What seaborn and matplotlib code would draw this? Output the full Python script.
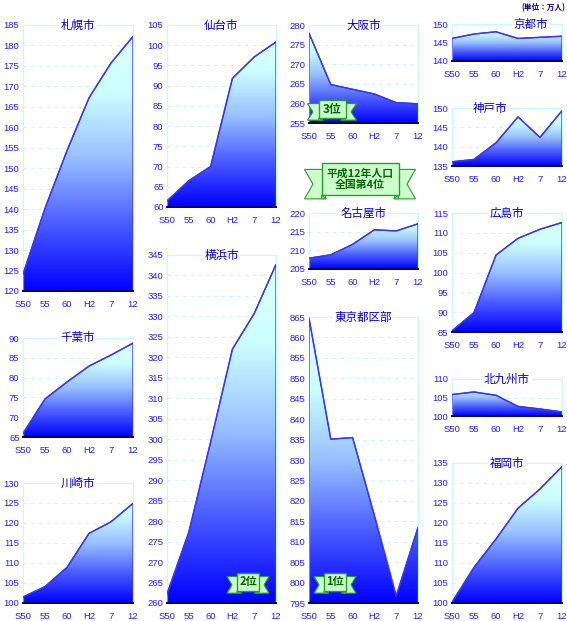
import numpy as np
import matplotlib
matplotlib.use('Agg')
import matplotlib.pyplot as plt
import seaborn as sns
from matplotlib.colors import LinearSegmentedColormap
from matplotlib.patches import Polygon

sns.set_style('white')
plt.rcParams['font.family'] = ['Noto Sans CJK JP', 'DejaVu Sans']

# 年次ラベル
years = ['S50', '55', '60', 'H2', '7', '12']

# 人口 (万人)
sapporo = [124.1, 140.2, 154.3, 167.2, 175.7, 182.2]
chiba = [65.9, 74.6, 78.9, 82.9, 85.7, 88.7]
kawasaki = [101.5, 104.1, 108.9, 117.4, 120.3, 124.9]
sendai = [61.5, 66.5, 70.0, 91.8, 97.1, 100.8]
yokohama = [262.2, 277.3, 299.3, 322.0, 330.7, 342.7]
osaka = [277.9, 264.8, 263.6, 262.4, 260.2, 259.9]
nagoya = [207.9, 208.8, 211.6, 215.5, 215.2, 217.1]
tokyo = [864.7, 835.1, 835.5, 816.4, 796.7, 813.5]
kyoto = [146.1, 147.3, 147.9, 146.1, 146.4, 146.7]
kobe = [136.1, 136.7, 141.0, 147.7, 142.4, 149.3]
hiroshima = [85.3, 89.9, 104.4, 108.6, 110.9, 112.6]
kitakyushu = [105.8, 106.5, 105.6, 102.6, 101.9, 101.1]
fukuoka = [100.2, 108.9, 116.0, 123.7, 128.5, 134.1]

W, H = 567, 621
fig = plt.figure(figsize=(W / 100, H / 100), dpi=100)
fig.patch.set_facecolor('white')

cmap = LinearSegmentedColormap.from_list(
    'grad', ['#0000ff', '#4a5cff', '#98c0ff', '#ccffff', '#e4ffff'])

# (名前, データ, y下限, y上限, 左, 上, 右, 下, タイトルずらし)
panels = [
    ('札幌市', sapporo, 120, 185, 23, 25, 133, 291, 0),
    ('千葉市', chiba, 65, 90, 23, 338, 133, 437, 0),
    ('川崎市', kawasaki, 100, 130, 23, 483, 133, 603, 0),
    ('仙台市', sendai, 60, 105, 167, 25, 276, 207, 0),
    ('横浜市', yokohama, 260, 345, 167, 255, 276, 603, 0),
    ('大阪市', osaka, 255, 280, 309, 25, 418, 123, 0),
    ('名古屋市', nagoya, 205, 220, 309, 213, 418, 269, 0),
    ('東京都区部', tokyo, 795, 865, 309, 317, 418, 603, 0),
    ('京都市', kyoto, 140, 150, 452, 24, 562, 61, 24),
    ('神戸市', kobe, 135, 150, 452, 108, 562, 166, -17),
    ('広島市', hiroshima, 85, 115, 452, 213, 562, 332, 0),
    ('北九州市', kitakyushu, 100, 110, 452, 379, 562, 416, 0),
    ('福岡市', fukuoka, 100, 135, 452, 463, 562, 603, 0),
]

xpos = np.arange(len(years))
axes = {}
for name, vals, lo, hi, l, t, r, b, dx in panels:
    ax = fig.add_axes([l / W, 1 - b / H, (r - l) / W, (b - t) / H])
    axes[name] = ax
    ax.set_xlim(0, 5)
    ax.set_ylim(lo, hi)
    fb = ax.fill_between(xpos, vals, lo, facecolor='none', edgecolor='#3535ff',
                         lw=0.9, zorder=3)
    im = ax.imshow(np.linspace(0, 1, 256).reshape(-1, 1), cmap=cmap, aspect='auto',
                   origin='lower', extent=[0, 5, lo, hi], zorder=2)
    im.set_clip_path(fb.get_paths()[0], transform=ax.transData)
    sns.lineplot(x=xpos, y=vals, ax=ax, color='#3535ff', lw=1.0, zorder=4)
    ax.set_xlim(0, 5)
    ax.set_ylim(lo, hi)
    ax.set_yticks(np.arange(lo, hi + 1, 5))
    ax.set_xticks(xpos)
    ax.set_xticklabels(years)
    ax.yaxis.grid(True, ls=(0, (3, 4)), color='#c8f4ff', lw=0.8)
    ax.set_axisbelow(True)
    for s in ['top', 'left', 'right']:
        ax.spines[s].set_color('#c8f8ff')
        ax.spines[s].set_linewidth(0.8)
    ax.spines['bottom'].set_color('#000050')
    ax.spines['bottom'].set_linewidth(1.4)
    ax.spines['bottom'].set_zorder(5)
    ax.tick_params(length=0, labelsize=6.8, labelcolor='#2020ff')
    ax.tick_params(axis='y', pad=2.5)
    ax.tick_params(axis='x', pad=6.5)
    for lab in ax.get_xticklabels() + ax.get_yticklabels():
        lab.set_family(['Liberation Sans', 'DejaVu Sans'])
    ax.set_xlabel('')
    ax.set_ylabel('')
    ax.text(0.5 + dx / (r - l), 1.0, name, transform=ax.transAxes, ha='center',
            va='center', fontsize=8.3, color='#0000cc', zorder=10, clip_on=False,
            bbox=dict(facecolor='white', edgecolor='none', pad=1.2))


def px(x, y):
    return (x / W, 1 - y / H)


def ribbon(cx, cy, rw, rh, tw, text, fs):
    # リボン飾り (ピクセル指定)
    fill, edge = '#ccffcc', '#22a022'
    half = rw / 2
    tail_top = cy - rh * 0.3
    tail_bot = cy + rh * 0.62
    for sgn in (-1, 1):
        inner = cx + sgn * (half - 4)
        outer = cx + sgn * (half + tw)
        notch = cx + sgn * (half + tw * 0.5)
        pts = [px(inner, tail_top), px(outer, tail_top),
               px(notch, (tail_top + tail_bot) / 2),
               px(outer, tail_bot), px(inner, tail_bot)]
        fig.patches.append(Polygon(pts, closed=True, facecolor=fill, edgecolor=edge,
                                   lw=0.8, transform=fig.transFigure, zorder=20))
        fold = [px(cx + sgn * half, cy + rh / 2), px(cx + sgn * (half - 5), tail_bot),
                px(cx + sgn * half, tail_bot)]
        fig.patches.append(Polygon(fold, closed=True, facecolor='#88cc88', edgecolor=edge,
                                   lw=0.6, transform=fig.transFigure, zorder=21))
    body = [px(cx - half, cy - rh / 2), px(cx + half, cy - rh / 2),
            px(cx + half, cy + rh / 2), px(cx - half, cy + rh / 2)]
    fig.patches.append(Polygon(body, closed=True, facecolor=fill, edgecolor=edge,
                               lw=1.0, transform=fig.transFigure, zorder=22))
    fig.text(cx / W, 1 - cy / H, text, ha='center', va='center', fontsize=fs,
             color='#006600', fontweight='bold', zorder=30, linespacing=1.15)


ribbon(332, 109, 27, 18, 11, '3位', 8.5)
ribbon(248, 582, 22, 18, 10, '2位', 8)
ribbon(335, 582, 22, 18, 10, '1位', 8)
ribbon(360, 179, 77, 32, 17, '平成12年人口\n全国第4位', 7.8)

fig.text(565 / W, 1 - 8 / H, '(単位：万人)', ha='right', va='center', fontsize=5.5,
         color='#000080', fontweight='bold')

fig.savefig('out.png', dpi=100, facecolor='white')
